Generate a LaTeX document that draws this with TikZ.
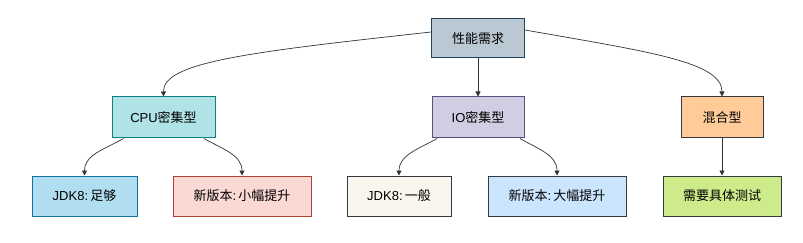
\documentclass[tikz,border=0pt]{standalone}
\usepackage{fontspec}
\setmainfont{Liberation Sans}
\newfontfamily\cjk{Noto Sans CJK SC}
\usetikzlibrary{arrows.meta}
\definecolor{topfill}{HTML}{BAC8D3}\definecolor{topline}{HTML}{23445D}
\definecolor{cpufill}{HTML}{B0E3E6}\definecolor{cpuline}{HTML}{0E8088}
\definecolor{bluefill}{HTML}{B1DDF0}\definecolor{blueline}{HTML}{10739E}
\definecolor{redfill}{HTML}{FAD9D5}\definecolor{redline}{HTML}{AE4132}
\definecolor{iofill}{HTML}{D0CEE2}\definecolor{ioline}{HTML}{56517E}
\definecolor{grayline}{HTML}{36393D}
\definecolor{creamfill}{HTML}{F9F7ED}
\definecolor{lbluefill}{HTML}{CCE5FF}
\definecolor{orangefill}{HTML}{FFCC99}
\definecolor{greenfill}{HTML}{CDEB8B}
\begin{document}
\begin{tikzpicture}[x=1pt,y=-1pt,
  box/.style={draw, line width=1pt, inner sep=0pt, font=\fontsize{13}{15}\selectfont},
  conn/.style={draw=black!80, line width=0.7pt, -{Triangle[length=5pt,width=5pt]}}]
\useasboundingbox (0,0) rectangle (803,243);
\node[box, fill=topfill, draw=topline, minimum width=93pt, minimum height=39pt] (top) at (478,38.5) {{\cjk 性能需求}};
\node[box, fill=cpufill, draw=cpuline, minimum width=103pt, minimum height=41pt] (cpu) at (163.5,117.5) {CPU{\cjk 密集型}};
\node[box, fill=iofill, draw=ioline, minimum width=92pt, minimum height=41pt] (io) at (478,117.5) {IO{\cjk 密集型}};
\node[box, fill=orangefill, draw=grayline, minimum width=82pt, minimum height=41pt] (mix) at (722,117.5) {{\cjk 混合型}};
\node[box, fill=bluefill, draw=blueline, minimum width=105pt, minimum height=40pt] (j1) at (84.5,196) {JDK8:\,{\cjk 足够}};
\node[box, fill=redfill, draw=redline, minimum width=138pt, minimum height=40pt] (n1) at (242,196) {{\cjk 新版本}:\,{\cjk 小幅提升}};
\node[box, fill=creamfill, draw=grayline, minimum width=104pt, minimum height=40pt] (j2) at (399,196) {JDK8:\,{\cjk 一般}};
\node[box, fill=lbluefill, draw=grayline, minimum width=138pt, minimum height=40pt] (n2) at (557,196) {{\cjk 新版本}:\,{\cjk 大幅提升}};
\node[box, fill=greenfill, draw=grayline, minimum width=118pt, minimum height=40pt] (test) at (722,196) {{\cjk 需要具体测试}};
\path[conn] ([yshift=6.5pt]top.west) .. controls (250,52) and (163,62) .. (cpu.north);
\path[conn] ([yshift=8.5pt]top.east) .. controls (650,52) and (722,62) .. (mix.north);
\path[conn] (top.south) -- (io.north);
\path[conn] ([xshift=-40pt]cpu.south) to[out=-150,in=90] (j1.north);
\path[conn] ([xshift=40.5pt]cpu.south) to[out=-30,in=90] (n1.north);
\path[conn] ([xshift=-41pt]io.south) to[out=-150,in=90] (j2.north);
\path[conn] ([xshift=42pt]io.south) to[out=-30,in=90] (n2.north);
\path[conn] (mix.south) -- (test.north);
\end{tikzpicture}
\end{document}
